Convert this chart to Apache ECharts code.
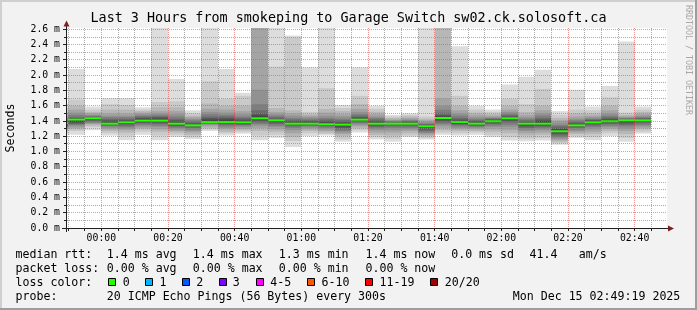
<!DOCTYPE html>
<html><head><meta charset="utf-8">
<script src="https://cdn.jsdelivr.net/npm/echarts@6/dist/echarts.min.js"></script>
<style>html,body{margin:0;padding:0;background:#f2f2f2}#c{width:697px;height:310px}</style>
</head><body><div id="c"></div><script>
// ---- data ----
const barTimes = ['23:45','23:50','23:55','00:00','00:05','00:10','00:15','00:20','00:25','00:30','00:35','00:40','00:45','00:50','00:55',
  '01:00','01:05','01:10','01:15','01:20','01:25','01:30','01:35','01:40','01:45','01:50','01:55','02:00','02:05','02:10','02:15','02:20','02:25','02:30','02:35','02:40'];
const medianRtt = [1.37,1.419,1.436,1.366,1.384,1.406,1.406,1.366,1.344,1.388,1.388,1.384,1.436,1.41,1.366,
  1.366,1.358,1.353,1.419,1.366,1.366,1.366,1.331,1.44,1.388,1.366,1.397,1.436,1.366,1.366,1.266,1.344,1.384,1.397,1.41,1.41];
// 20 sorted pings (ms) per 5-minute step
const pingRows = [
 [1.22,1.25,1.27,1.29,1.31,1.32,1.33,1.34,1.35,1.36,1.37,1.38,1.39,1.41,1.43,1.45,1.48,1.52,1.57,1.63],
 [1.22,1.27,1.29,1.31,1.33,1.35,1.36,1.37,1.39,1.41,1.42,1.43,1.44,1.45,1.48,1.51,1.55,1.60,1.68,2.08],
 [1.28,1.32,1.34,1.36,1.37,1.38,1.40,1.41,1.42,1.43,1.44,1.44,1.45,1.46,1.47,1.48,1.50,1.52,1.55,1.59],
 [1.21,1.24,1.27,1.29,1.31,1.33,1.34,1.35,1.36,1.365,1.37,1.39,1.41,1.43,1.45,1.47,1.50,1.55,1.62,1.70],
 [1.15,1.21,1.25,1.28,1.30,1.32,1.34,1.36,1.37,1.38,1.39,1.40,1.41,1.43,1.45,1.47,1.50,1.55,1.61,1.70],
 [1.22,1.26,1.29,1.31,1.33,1.35,1.37,1.38,1.40,1.405,1.41,1.43,1.44,1.46,1.47,1.49,1.51,1.53,1.55,1.58],
 [1.15,1.21,1.26,1.29,1.32,1.34,1.36,1.38,1.40,1.405,1.41,1.43,1.45,1.46,1.48,1.50,1.53,1.58,1.65,2.70],
 [1.19,1.22,1.25,1.27,1.29,1.31,1.33,1.34,1.36,1.365,1.37,1.39,1.41,1.43,1.46,1.49,1.53,1.58,1.66,1.95],
 [1.165,1.19,1.22,1.25,1.27,1.29,1.31,1.33,1.34,1.345,1.35,1.36,1.37,1.39,1.41,1.43,1.45,1.47,1.50,1.54],
 [1.27,1.29,1.31,1.33,1.35,1.36,1.37,1.38,1.385,1.39,1.40,1.42,1.44,1.46,1.49,1.52,1.56,1.63,1.92,2.70],
 [1.21,1.24,1.26,1.29,1.31,1.33,1.35,1.37,1.38,1.385,1.39,1.42,1.44,1.46,1.48,1.51,1.55,1.60,1.69,2.08],
 [1.235,1.26,1.28,1.30,1.32,1.34,1.35,1.36,1.37,1.38,1.39,1.40,1.42,1.44,1.46,1.49,1.53,1.60,1.73,1.77],
 [1.15,1.21,1.27,1.31,1.34,1.36,1.38,1.40,1.42,1.435,1.44,1.47,1.50,1.54,1.62,1.81,2.63,2.65,2.70,2.80],
 [1.18,1.22,1.26,1.29,1.32,1.34,1.36,1.38,1.39,1.40,1.41,1.42,1.43,1.45,1.47,1.49,1.52,1.57,2.11,2.70],
 [1.06,1.14,1.19,1.24,1.28,1.31,1.33,1.35,1.36,1.365,1.37,1.39,1.40,1.42,1.44,1.47,1.50,1.54,2.50,2.52],
 [1.20,1.24,1.27,1.29,1.31,1.33,1.34,1.35,1.36,1.365,1.37,1.39,1.40,1.41,1.43,1.45,1.47,1.49,1.52,2.10],
 [1.21,1.23,1.25,1.27,1.29,1.31,1.33,1.34,1.35,1.355,1.36,1.38,1.40,1.42,1.44,1.47,1.51,1.56,1.83,2.70],
 [1.13,1.16,1.20,1.23,1.25,1.27,1.29,1.31,1.33,1.35,1.36,1.37,1.39,1.41,1.43,1.46,1.49,1.53,1.57,1.61],
 [1.25,1.28,1.31,1.33,1.35,1.37,1.38,1.40,1.41,1.415,1.42,1.44,1.45,1.47,1.49,1.52,1.56,1.62,1.73,2.10],
 [1.16,1.19,1.22,1.25,1.28,1.30,1.32,1.34,1.36,1.365,1.37,1.39,1.40,1.42,1.44,1.46,1.49,1.52,1.56,1.60],
 [1.13,1.17,1.21,1.25,1.28,1.31,1.33,1.35,1.36,1.365,1.37,1.375,1.38,1.39,1.40,1.41,1.42,1.44,1.46,1.48],
 [1.19,1.21,1.24,1.27,1.29,1.31,1.33,1.35,1.36,1.365,1.37,1.38,1.39,1.40,1.41,1.42,1.44,1.46,1.48,1.50],
 [1.157,1.18,1.20,1.22,1.24,1.25,1.27,1.29,1.31,1.33,1.335,1.34,1.35,1.36,1.37,1.39,1.41,1.43,1.46,2.70],
 [1.22,1.25,1.28,1.31,1.34,1.36,1.38,1.40,1.42,1.44,1.45,1.46,1.48,1.51,1.55,1.60,1.70,2.65,2.70,2.80],
 [1.21,1.24,1.27,1.29,1.31,1.33,1.35,1.36,1.37,1.385,1.395,1.40,1.42,1.44,1.47,1.50,1.54,1.60,1.73,2.38],
 [1.22,1.25,1.27,1.29,1.31,1.32,1.335,1.345,1.355,1.365,1.375,1.385,1.40,1.41,1.43,1.45,1.48,1.51,1.55,1.60],
 [1.19,1.22,1.26,1.29,1.32,1.34,1.36,1.37,1.385,1.395,1.40,1.41,1.42,1.43,1.44,1.45,1.47,1.49,1.52,1.55],
 [1.144,1.19,1.24,1.28,1.32,1.35,1.38,1.40,1.42,1.435,1.44,1.45,1.46,1.48,1.50,1.52,1.55,1.60,1.69,1.88],
 [1.135,1.17,1.21,1.24,1.27,1.29,1.31,1.33,1.35,1.365,1.37,1.38,1.39,1.41,1.43,1.45,1.48,1.52,1.62,1.98],
 [1.144,1.18,1.22,1.25,1.28,1.30,1.32,1.34,1.35,1.365,1.38,1.40,1.42,1.44,1.47,1.50,1.54,1.60,1.82,2.07],
 [1.09,1.11,1.13,1.15,1.17,1.19,1.21,1.23,1.25,1.265,1.275,1.29,1.31,1.33,1.35,1.38,1.41,1.44,1.48,1.53],
 [1.18,1.20,1.23,1.25,1.27,1.29,1.31,1.325,1.335,1.345,1.35,1.36,1.37,1.39,1.41,1.43,1.46,1.50,1.55,1.81],
 [1.15,1.19,1.23,1.26,1.29,1.32,1.34,1.36,1.375,1.385,1.39,1.40,1.41,1.42,1.43,1.45,1.47,1.50,1.54,1.59],
 [1.20,1.24,1.27,1.30,1.32,1.34,1.36,1.37,1.385,1.395,1.405,1.415,1.43,1.45,1.47,1.50,1.54,1.60,1.71,1.86],
 [1.13,1.18,1.23,1.27,1.30,1.33,1.35,1.37,1.39,1.405,1.41,1.415,1.42,1.43,1.44,1.45,1.46,1.48,1.51,2.44],
 [1.235,1.26,1.29,1.31,1.33,1.35,1.37,1.39,1.40,1.41,1.415,1.42,1.43,1.44,1.45,1.47,1.49,1.52,1.55,1.59]
];
const xMajorTicks = ['00:00','00:20','00:40','01:00','01:20','01:40','02:00','02:20','02:40'];
const xMinorTicks = ['23:50','23:55','00:05','00:10','00:15','00:25','00:30','00:35','00:45','00:50','00:55','01:05','01:10','01:15',
  '01:25','01:30','01:35','01:45','01:50','01:55','02:05','02:10','02:15','02:25','02:30','02:35','02:45'];
const yMajorTicks = [0.2,0.4,0.6,0.8,1.0,1.2,1.4,1.6,1.8,2.0,2.2,2.4,2.6];
const yMinorTicks = [0.1,0.3,0.5,0.7,0.9,1.1,1.3,1.5,1.7,1.9,2.1,2.3,2.5];
const smokeColors = ['#dddddd','#cacaca','#b7b7b7','#a4a4a4','#919191','#7e7e7e','#6b6b6b','#585858','#454545','#323232'];
const lossLabels = ['0','1','2','3','4-5','6-10','11-19','20/20'];
const lossColors = ['#26ff00','#00b8ff','#0059ff','#7e00ff','#ff00ff','#ff5500','#ff0000','#a00000'];
const titleText = 'Last 3 Hours from smokeping to Garage Switch sw02.ck.solosoft.ca';
const legendRtt = ['median rtt:','1.4 ms avg','1.4 ms max','1.3 ms min','1.4 ms now','0.0 ms sd','41.4','am/s'];
const legendLoss = ['packet loss:','0.00 % avg','0.00 % max','0.00 % min','0.00 % now'];
const legendProbe = ['probe:','20 ICMP Echo Pings (56 Bytes) every 300s','Mon Dec 15 02:49:19 2025'];

// ---- helpers ----
function toMin(s){const p=s.split(':').map(Number);return (p[0]>=12?p[0]-24:p[0])*60+p[1];}
const STEP = 5;
const X_MIN = -10.3, X_MAX = 169.7, Y_MAX = 2.618;
const MONO = 'DejaVu Sans Mono';

const smokeData = barTimes.map((t,i)=>[toMin(t), toMin(t)+STEP, medianRtt[i]]);

function renderSmoke(params, api){
  const i = params.dataIndex;
  const t0 = api.value(0), t1 = api.value(1);
  const row = pingRows[i];
  const xa = Math.round(api.coord([t0,0])[0]);
  const xb = Math.round(api.coord([t1,0])[0]);
  const ch = [];
  for(let k=0;k<10;k++){
    const yTop = api.coord([t0,row[19-k]])[1];
    const yBot = api.coord([t0,row[k]])[1];
    ch.push({type:'rect',shape:{x:xa,y:yTop,width:xb-xa,height:yBot-yTop},style:{fill:smokeColors[k]}});
  }
  const ym = api.coord([t0,api.value(2)])[1];
  ch.push({type:'rect',shape:{x:xa,y:ym-1,width:xb-xa,height:2},style:{fill:lossColors[0]}});
  return {type:'group',children:ch};
}
function vLines(color, tickLen){
  return function(params, api){
    const cs = params.coordSys;
    const x = Math.round(api.coord([api.value(0),0])[0]-0.5)+0.5;
    const yb = cs.y+cs.height;
    return {type:'group',children:[
      {type:'line',shape:{x1:x,y1:cs.y,x2:x,y2:yb},style:{stroke:color,lineWidth:1,lineDash:[1,1]}},
      {type:'line',shape:{x1:x,y1:yb,x2:x,y2:yb+tickLen},style:{stroke:'#1f1f1f',lineWidth:1}}
    ]};
  };
}
function hLines(color, tickLen){
  return function(params, api){
    const cs = params.coordSys;
    const y = Math.round(api.coord([0,api.value(1)])[1]-0.5)+0.5;
    return {type:'group',children:[
      {type:'line',shape:{x1:cs.x,y1:y,x2:cs.x+cs.width,y2:y},style:{stroke:color,lineWidth:1,lineDash:[1,1]}},
      {type:'line',shape:{x1:cs.x-1-tickLen,y1:y,x2:cs.x-1,y2:y},style:{stroke:'#1f1f1f',lineWidth:1}}
    ]};
  };
}
const GRID_MINOR = 'rgba(143,143,143,0.75)';
const GRID_MAJOR = 'rgba(222,79,79,0.6)';

function txt(text, x, y, size, extra){
  return Object.assign({type:'text',x:x,y:y,silent:true,
    style:Object.assign({text:text,font:size+'px "'+MONO+'"',fill:'#000',align:'left',verticalAlign:'middle',textAlign:'left',textVerticalAlign:'middle'}, extra||{})});
}

const graphics = [
  {type:'rect',shape:{x:0,y:0,width:697,height:2},style:{fill:'#cfcfcf'}},
  {type:'rect',shape:{x:0,y:0,width:2,height:310},style:{fill:'#cfcfcf'}},
  {type:'rect',shape:{x:0,y:308,width:697,height:2},style:{fill:'#9e9e9e'}},
  {type:'rect',shape:{x:695,y:0,width:2,height:310},style:{fill:'#9e9e9e'}},
  // axes with arrows
  {type:'line',shape:{x1:66.5,y1:232,x2:66.5,y2:24},style:{stroke:'#1f1f1f',lineWidth:1},z:10},
  {type:'polygon',shape:{points:[[63.5,26.5],[69.5,26.5],[66.5,20.5]]},style:{fill:'#801f1f'},z:10},
  {type:'line',shape:{x1:62,y1:228.5,x2:669,y2:228.5},style:{stroke:'#1f1f1f',lineWidth:1},z:10},
  {type:'polygon',shape:{points:[[668,225.5],[668,231.5],[674,228.5]]},style:{fill:'#801f1f'},z:10},
  txt(titleText, 348.5, 19, 13.4, {align:'center',textAlign:'center'}),
  Object.assign(txt('Seconds', 11, 128, 11.6, {align:'center',textAlign:'center'}), {rotation:Math.PI/2}),
  Object.assign(txt('RRDTOOL / TOBI OETIKER', 688, 60, 8.3, {align:'center',textAlign:'center',fill:'#a8a8a8'}), {rotation:-Math.PI/2})
];
const rttX = [15.5,106.8,192.8,278.8,365.5,451.2,529.5,578.8];
legendRtt.forEach((s,i)=>graphics.push(txt(s, rttX[i], 254.5, 11.6)));
const lossX = [15.5,106.8,192.8,278.8,365.5];
legendLoss.forEach((s,i)=>graphics.push(txt(s, lossX[i], 268.5, 11.6)));
graphics.push(txt('loss color:', 15.5, 282.5, 11.6));
const boxX = [108,145,182,219,256,307,365,430];
const boxLabelX = [122.8,159.5,196.2,232.8,270.2,321.5,379.5,444.8];
lossLabels.forEach((s,i)=>{
  graphics.push({type:'rect',shape:{x:boxX[i]+0.5,y:278.5,width:7,height:7},style:{fill:lossColors[i],stroke:'#000',lineWidth:1}});
  graphics.push(txt(s, boxLabelX[i], 282.5, 11.6));
});
const probeX = [15.5,106.8,512.8];
legendProbe.forEach((s,i)=>graphics.push(txt(s, probeX[i], 296.5, 11.6)));

const chart = echarts.init(document.getElementById('c'), null, {renderer:'canvas'});
chart.setOption({
  animation:false,
  backgroundColor:'#f2f2f2',
  grid:{left:67,top:28,width:600,height:200,show:true,backgroundColor:'#ffffff',borderWidth:0},
  xAxis:{type:'value',min:X_MIN,max:X_MAX,
    axisLine:{show:false},axisTick:{show:false},splitLine:{show:false},
    axisLabel:{customValues:xMajorTicks.map(toMin),formatter:v=>xMajorTicks[Math.round(v/20)]||'',
      color:'#000',fontFamily:MONO,fontSize:9.8,margin:5}},
  yAxis:{type:'value',min:0,max:Y_MAX,interval:0.2,
    axisLine:{show:false},axisTick:{show:false},splitLine:{show:false},
    axisLabel:{showMaxLabel:false,color:'#000',fontFamily:MONO,fontSize:9.8,margin:7,
      formatter:v=>Math.abs(v*5-Math.round(v*5))<1e-6 ? v.toFixed(1)+' m' : ''}},
  series:[
    {type:'custom',name:'smoke',renderItem:renderSmoke,data:smokeData,encode:{x:[0,1],y:2},clip:true,z:2,silent:true},
    {type:'custom',name:'vminor',renderItem:vLines(GRID_MINOR,3),data:xMinorTicks.map(t=>[toMin(t),0]),clip:false,z:3,silent:true},
    {type:'custom',name:'vmajor',renderItem:vLines(GRID_MAJOR,3),data:xMajorTicks.map(t=>[toMin(t),0]),clip:false,z:4,silent:true},
    {type:'custom',name:'hminor',renderItem:hLines(GRID_MINOR,2),data:yMinorTicks.map(v=>[0,v]),clip:false,z:3,silent:true},
    {type:'custom',name:'hmajor',renderItem:hLines(GRID_MAJOR,3),data:yMajorTicks.map(v=>[0,v]),clip:false,z:4,silent:true}
  ],
  graphic:graphics
});
</script></body></html>
